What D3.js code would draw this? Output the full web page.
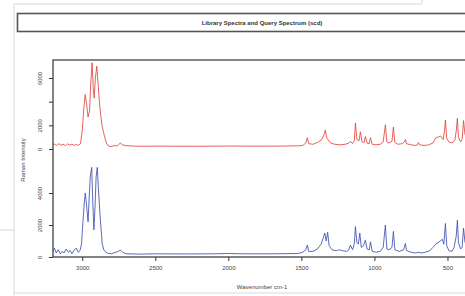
<!DOCTYPE html>
<html>
<head>
<meta charset="utf-8">
<script src="https://cdn.jsdelivr.net/npm/d3@7"></script>
<style>
  body { margin: 0; background: #fff; }
  svg { display: block; font-family: "Liberation Sans", Arial, sans-serif; }
  .axis text { font-size: 6px; fill: #444; }
  .axis path, .axis line { stroke: #333; }
</style>
</head>
<body>
<div id="chart"></div>
<script>
// Title and axis text
var title = "Library Spectra and Query Spectrum (scd)";
var xTitle = "Wavenumber cm-1";
var yTitle = "Raman Intensity";

// x ticks (wavenumber, descending)
var xTicks = [3000, 2500, 2000, 1500, 1000, 500];

// y ticks for the upper (library) and lower (query) spectrum
var topTicks = [0, 2000, 4000, 6000];
var topTickLabels = ["0", "2000", "", "6000"];
var botTicks = [0, 2000, 4000];
var botTickLabels = ["0", "2000", "4000"];

// Library spectrum (red)
var redWavenumber = [3205, 3190, 3175, 3160, 3145, 3130, 3115, 3100, 3085, 3070, 3055, 3040, 3025, 3012,
  3000, 2990, 2980, 2970, 2960, 2950, 2942, 2932, 2925, 2918, 2910, 2900, 2892, 2880, 2865, 2850, 2835,
  2820, 2800, 2780, 2760, 2740, 2725, 2700, 2650, 2600, 2500, 2200, 2000, 1800, 1600, 1520,
  1490, 1470, 1459, 1450, 1420, 1390, 1360, 1345, 1336, 1325, 1300, 1270, 1240, 1200, 1175, 1164, 1150,
  1138, 1130, 1120, 1105, 1096, 1085, 1070, 1062, 1050, 1035, 1027, 1015, 990, 960, 940, 925, 915, 900,
  880, 870, 860, 840, 810, 795, 788, 780, 750, 720, 705, 699, 690, 660, 630, 600, 582, 565, 548, 530,
  520, 514, 505, 490, 470, 450, 440, 432, 425, 410, 400, 390, 380];
var redIntensity = [350, 420, 300, 450, 320, 400, 280, 430, 330, 410, 300, 380, 320, 450,
  1500, 3300, 4600, 3800, 2700, 3200, 5500, 7300, 5200, 4300, 6000, 7000, 5600, 3600, 2000, 1200, 500,
  250, 200, 300, 260, 500, 350, 280, 250, 230, 240, 230, 250, 240, 250, 270,
  300, 500, 950, 450, 400, 550, 800, 1200, 1600, 900, 500, 400, 350, 400, 500, 650, 450,
  700, 2200, 800, 700, 1450, 600, 550, 1050, 500, 450, 950, 400, 350, 400, 600, 2050, 600, 500,
  650, 1850, 550, 400, 450, 600, 800, 450, 350, 300, 350, 550, 350, 300, 350, 500, 900, 1000, 1100, 800,
  1500, 2450, 900, 600, 500, 700, 1500, 2600, 1000, 600, 800, 2400, 1200];

// Query spectrum (blue)
var blueWavenumber = [3205, 3190, 3178, 3165, 3150, 3138, 3125, 3110, 3095, 3082, 3070, 3055, 3040, 3028, 3015,
  3005, 2995, 2985, 2979, 2970, 2960, 2952, 2945, 2935, 2928, 2920, 2912, 2905, 2897, 2890, 2878, 2863,
  2850, 2830, 2800, 2770, 2750, 2740, 2725, 2700, 2600, 2500, 2300, 2100, 2000, 1900, 1700, 1520,
  1490, 1470, 1459, 1450, 1420, 1390, 1365, 1350, 1340, 1330, 1320, 1310, 1290, 1260, 1240, 1220, 1190,
  1175, 1164, 1150, 1138, 1130, 1120, 1110, 1100, 1090, 1075, 1062, 1050, 1035, 1027, 1015, 990, 960,
  940, 925, 915, 900, 880, 870, 860, 830, 800, 788, 780, 750, 720, 700, 680, 650, 620, 600, 580, 565,
  550, 535, 525, 514, 505, 490, 470, 455, 440, 432, 425, 410, 400, 390, 380];
var blueIntensity = [300, 550, 250, 450, 200, 350, 250, 500, 300, 400, 200, 450, 550, 300, 400,
  800, 2200, 3500, 4000, 3200, 2200, 3800, 5000, 5600, 3500, 1700, 3200, 5000, 5600, 4400, 2600, 800,
  400, 250, 200, 300, 350, 450, 300, 200, 180, 200, 190, 200, 220, 200, 200, 220,
  300, 450, 750, 350, 350, 500, 800, 1200, 1500, 1000, 1550, 700, 450, 400, 450, 400, 350,
  450, 750, 450, 800, 1900, 900, 800, 1500, 600, 700, 1050, 500, 450, 950, 350, 300, 350,
  600, 2000, 500, 450, 600, 1600, 450, 350, 450, 850, 400, 300, 250, 300, 250, 300, 400, 600, 800, 900,
  1000, 1100, 800, 2100, 700, 400, 350, 600, 1300, 2300, 900, 500, 600, 1800, 900];

var red = redWavenumber.map(function (w, i) { return { wn: w, v: redIntensity[i] }; });
var blue = blueWavenumber.map(function (w, i) { return { wn: w, v: blueIntensity[i] }; });

var W = 465, H = 296;
var plot = { left: 53, top: 60, right: 467, bottom: 257 };

var svg = d3.select("#chart").append("svg")
    .attr("width", W)
    .attr("height", H);

// faint page frame lines around the figure
var frame = "#d3dbe5";
svg.append("line").attr("x1", 14).attr("x2", 14).attr("y1", 4).attr("y2", H).style("stroke", frame);
svg.append("line").attr("x1", 14).attr("x2", 422).attr("y1", 4).attr("y2", 4).style("stroke", frame);
svg.append("line").attr("x1", 422).attr("x2", 422).attr("y1", 0).attr("y2", 4).style("stroke", frame);
svg.append("line").attr("x1", 0).attr("x2", 14).attr("y1", 230).attr("y2", 230).style("stroke", frame);
svg.append("line").attr("x1", 14).attr("x2", W).attr("y1", 293).attr("y2", 293).style("stroke", frame);

// Title box
svg.append("rect")
    .attr("x", 17.5).attr("y", 13.5)
    .attr("width", 460).attr("height", 18)
    .style("fill", "#fff")
    .style("stroke", "#555")
    .style("stroke-width", 1.6);
svg.append("text")
    .attr("x", 262).attr("y", 25)
    .attr("text-anchor", "middle")
    .style("font-size", "6px")
    .style("font-weight", "bold")
    .style("fill", "#333")
    .text(title);

// Scales
var x = d3.scaleLinear().domain([3200, 380]).range([plot.left, 465]);
var yTop = d3.scaleLinear().domain([0, 6000]).range([149, 78]);
var yBot = d3.scaleLinear().domain([0, 4000]).range([257, 193]);

svg.append("clipPath").attr("id", "clip")
    .append("rect")
    .attr("x", plot.left).attr("y", plot.top)
    .attr("width", plot.right - plot.left).attr("height", plot.bottom - plot.top);

var topLine = d3.line()
    .x(function (d) { return x(d.wn); })
    .y(function (d) { return yTop(d.v); });
var botLine = d3.line()
    .x(function (d) { return x(d.wn); })
    .y(function (d) { return yBot(d.v); });

var g = svg.append("g").attr("clip-path", "url(#clip)");
g.append("path")
    .attr("d", topLine(red))
    .style("fill", "none")
    .style("stroke", "#e2463f")
    .style("stroke-opacity", 0.85)
    .style("stroke-width", 1);
g.append("path")
    .attr("d", botLine(blue))
    .style("fill", "none")
    .style("stroke", "#3f51b0")
    .style("stroke-opacity", 0.85)
    .style("stroke-width", 1);

// Plot box
svg.append("rect")
    .attr("x", plot.left).attr("y", plot.top)
    .attr("width", plot.right - plot.left).attr("height", plot.bottom - plot.top)
    .style("fill", "none")
    .style("stroke", "#333")
    .style("stroke-width", 1.2);

// x axis
var xAxis = d3.axisBottom(x).tickValues(xTicks).tickSize(4).tickPadding(5)
    .tickFormat(d3.format("d"));
svg.append("g")
    .attr("class", "axis")
    .attr("transform", "translate(0," + plot.bottom + ")")
    .call(xAxis)
    .call(function (s) { s.select(".domain").remove(); });

// y axes (labels rotated as in R)
function yAxisGroup(scale, ticks, labels) {
  var ax = d3.axisLeft(scale).tickValues(ticks).tickSize(4).tickPadding(4)
      .tickFormat(function (d, i) { return labels[i]; });
  var gg = svg.append("g")
      .attr("class", "axis")
      .attr("transform", "translate(" + plot.left + ",0)")
      .call(ax);
  gg.select(".domain").remove();
  gg.selectAll(".tick text")
      .attr("x", 0).attr("dy", 0)
      .attr("text-anchor", "middle")
      .attr("transform", "translate(-11,0) rotate(-90)");
}
yAxisGroup(yTop, topTicks, topTickLabels);
yAxisGroup(yBot, botTicks, botTickLabels);

// Axis titles
svg.append("text")
    .attr("x", 262).attr("y", 289)
    .attr("text-anchor", "middle")
    .style("font-size", "6px")
    .style("fill", "#444")
    .text(xTitle);
svg.append("text")
    .attr("transform", "translate(25,160) rotate(-90)")
    .attr("text-anchor", "middle")
    .style("font-size", "6px")
    .style("fill", "#444")
    .text(yTitle);
</script>
</body>
</html>
